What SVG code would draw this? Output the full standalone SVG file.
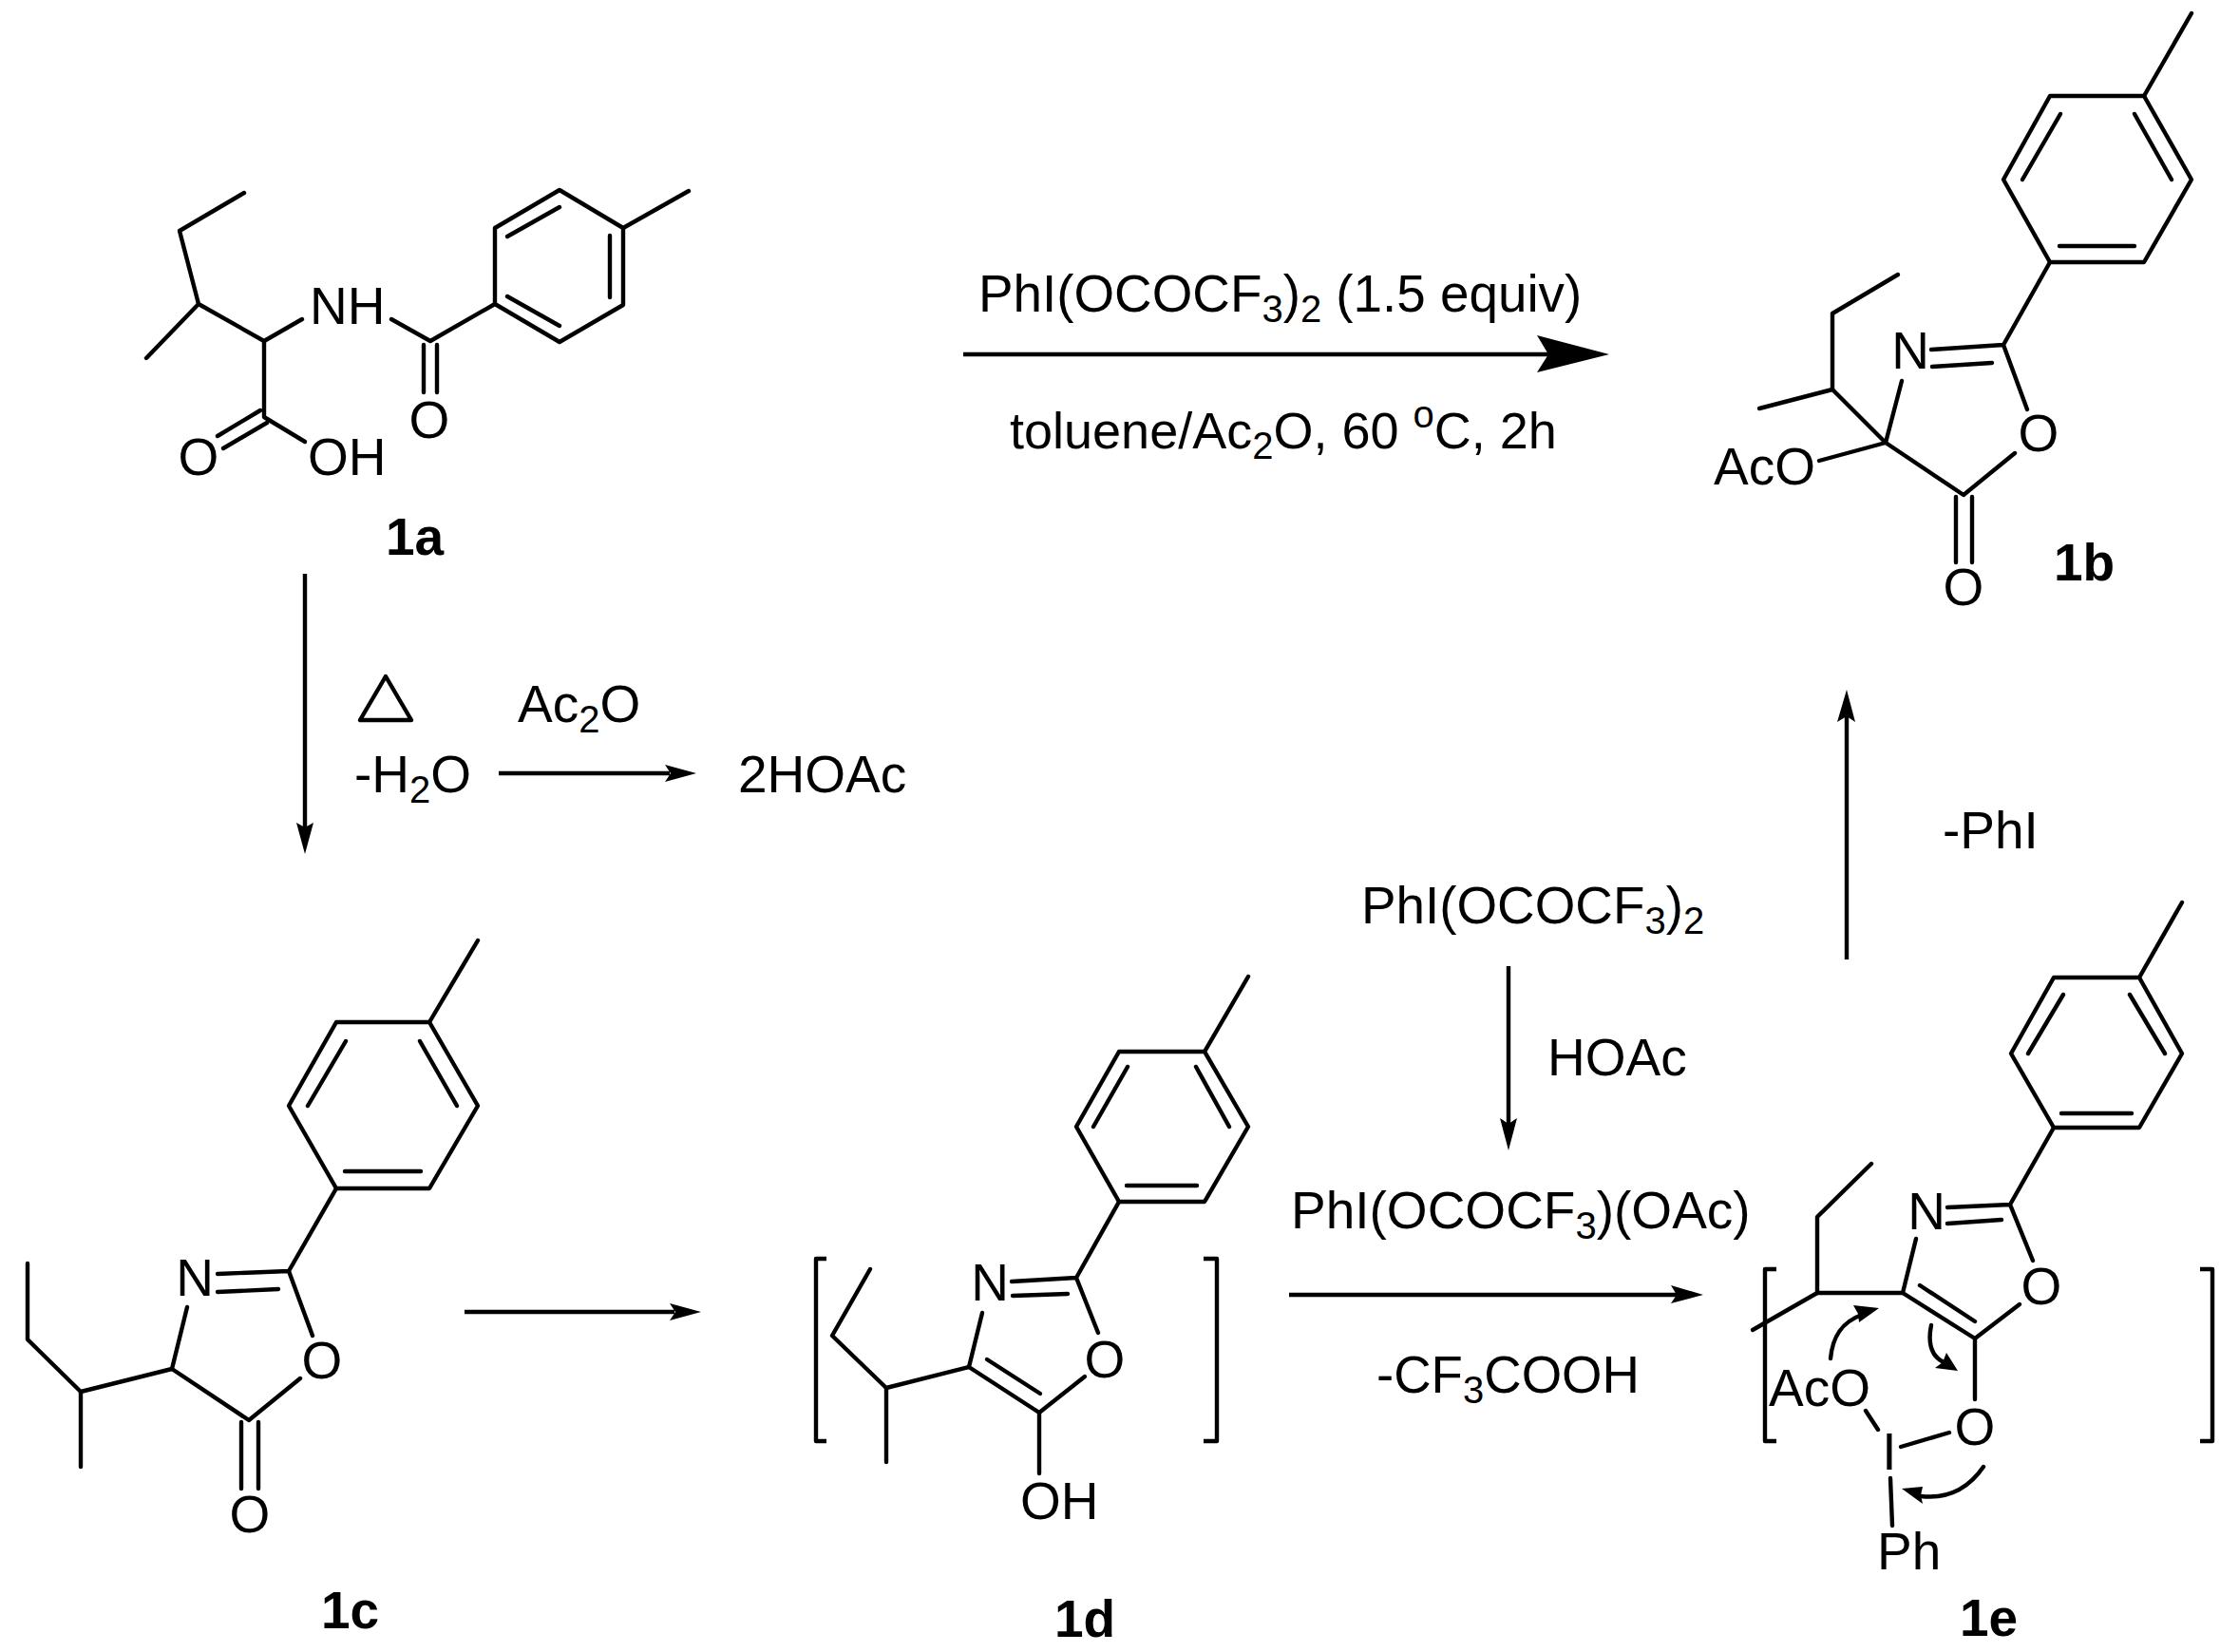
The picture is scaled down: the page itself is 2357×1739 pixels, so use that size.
<svg xmlns="http://www.w3.org/2000/svg" width="2357" height="1739" viewBox="0 0 2357 1739">
<style>
text{font-family:"Liberation Sans",Arial,sans-serif;font-size:55px;fill:#000}
.b{font-weight:bold}
.m{text-anchor:middle}
.s{font-size:40px}
path,line,polyline,polygon{stroke:#000;stroke-width:4.4;fill:none;stroke-linecap:round;stroke-linejoin:round}
.ah{fill:#000;stroke:none}
.c{stroke-linecap:butt}
</style>
<rect width="2357" height="1739" fill="#fff"/>
<g id="connectors">
<path class="c" d="M1014 373H1630"/><polygon class="ah" points="1694,373 1618,353 1630,373 1618,392"/>
<path class="c" d="M321 604V873"/><polygon class="ah" points="321,899 312,866 321,871 330,866"/>
<path class="c" d="M525 814H705"/><polygon class="ah" points="733,814 700,805 706,814 700,823"/>
<path class="c" d="M489 1381H710"/><polygon class="ah" points="738,1381 705,1372 711,1381 705,1390"/>
<path class="c" d="M1357 1363H1765"/><polygon class="ah" points="1793,1363 1759,1353 1765,1363 1759,1372"/>
<path class="c" d="M1588 1017V1185"/><polygon class="ah" points="1588,1211 1579,1177 1588,1183 1597,1177"/>
<path class="c" d="M1944 1010V752"/><polygon class="ah" points="1944,726 1934,760 1944,754 1953,760"/>
</g>
<g id="m1a">
<polyline points="257,203 189,243 209,320 154,377"/>
<polyline points="209,320 278,359 318,336"/>
<polyline points="278,359 278,439 321,465"/>
<path d="M229 459L274 432M235 472L281 445"/>
<polyline points="412,336 453,359 521,320"/>
<path d="M446 363V413M460 363V413"/>
<polygon points="521,240 589,200 656,240 656,321 589,360 521,320"/>
<path d="M656 240L725 201M534 249L589 218M642 248V313M534 312L589 343"/>
<text x="326" y="341">NH</text>
<text class="m" x="452" y="461">O</text>
<text class="m" x="209" y="500">O</text>
<text x="324" y="500">OH</text>
<text class="b" x="406" y="584">1a</text>
</g>
<g id="m1b">
<polygon points="2158,101 2257,101 2307,189 2257,276 2158,276 2109,189"/>
<path d="M2257 101L2307 14M2169 120L2129 189M2247 120L2286 189M2168 259H2247"/>
<path d="M2158 276L2109 363L2134 431M2033 368L2109 363M2034 386L2097 382"/>
<polyline points="2121,477 2067,521 1985,466 2002,401"/>
<polyline points="1852,430 1929,410 1929,330 1998,289"/>
<path d="M1929 410L1985 466L1915 485M2059 523V592M2076 523V592"/>
<text class="m" x="2011" y="388">N</text>
<text class="m" x="2146" y="475">O</text>
<text class="m" x="2067" y="637">O</text>
<text x="1804" y="510">AcO</text>
<text class="b" x="2162" y="611">1b</text>
</g>
<g id="m1c">
<polygon points="354,1076 452,1076 503,1164 452,1251 354,1251 304,1164"/>
<path d="M452 1076L503 990M364 1096L324 1164M442 1096L481 1164M363 1233H443"/>
<path d="M354 1251L304 1338L329 1406M229 1341L304 1338M229 1360L293 1357"/>
<polyline points="316,1451 262,1495 181,1441 197,1376"/>
<polyline points="29,1330 29,1410 85,1465 181,1441"/>
<path d="M85 1465V1544M254 1497V1567M272 1497V1567"/>
<text class="m" x="205" y="1364">N</text>
<text class="m" x="339" y="1451">O</text>
<text class="m" x="263" y="1613">O</text>
<text class="b" x="338" y="1714">1c</text>
</g>
<g id="m1d">
<polygon points="1178,1107 1268,1107 1314,1186 1268,1265 1178,1265 1133,1186"/>
<path d="M1268 1107L1314 1028M1187 1123L1151 1186M1259 1123L1294 1186M1186 1248H1260"/>
<path d="M1178 1265L1133 1345L1156 1403M1065 1349L1133 1345M1066 1364L1124 1362"/>
<polyline points="1142,1449 1094,1487 1020,1439 1034,1382"/>
<path d="M1039 1431L1095 1467"/>
<polyline points="916,1336 876,1406 933,1461 1020,1439"/>
<path d="M933 1461V1539M1094 1487V1551"/>
<polyline class="c" points="870,1329 859,1329 859,1521 870,1521" transform="translate(0,-4)"/>
<polyline class="c" points="1267,1329 1281,1329 1281,1521 1267,1521" transform="translate(0,-4)"/>
<text class="m" x="1042" y="1369">N</text>
<text class="m" x="1163" y="1450">O</text>
<text x="1074" y="1599">OH</text>
<text class="b" x="1110" y="1723">1d</text>
</g>
<g id="m1e">
<polygon points="2162,1029 2252,1029 2297,1109 2252,1187 2162,1187 2117,1109"/>
<path d="M2252 1029L2297 950M2172 1047L2135 1109M2242 1047L2279 1109M2170 1172H2244"/>
<path d="M2162 1187L2116 1268L2140 1327M2050 1271L2116 1268M2050 1288L2107 1284"/>
<polyline points="2126,1373 2079,1409 2003,1361 2017,1304"/>
<path d="M2021 1353L2079 1391M2079 1409V1473"/>
<polyline points="1970,1225 1913,1281 1913,1361 2003,1361"/>
<path d="M1845 1400L1913 1361"/>
<polyline class="c" points="1870,1336 1858,1336 1858,1517 1870,1517"/>
<polyline class="c" points="2316,1336 2329,1336 2329,1517 2316,1517"/>
<path d="M1964 1485L1977 1505M2001 1523L2052 1508M1990 1556L1992 1606"/>
<path d="M1927 1430C1929 1408 1938 1392 1960 1384"/><polygon class="ah" points="1978,1377 1951,1374 1956,1383 1957,1392"/>
<path d="M2033 1395C2029 1415 2034 1428 2046 1434"/><polygon class="ah" points="2061,1443 2049,1424 2045,1434 2037,1440"/>
<path d="M2088 1544C2070 1570 2048 1578 2022 1575"/><polygon class="ah" points="2002,1567 2024,1565 2022,1574 2024,1583"/>
<text x="1862" y="1480">AcO</text>
<text class="m" x="1989" y="1547">I</text>
<text class="m" x="2079" y="1521">O</text>
<text class="m" x="2149" y="1373">O</text>
<text class="m" x="2028" y="1294">N</text>
<text x="1976" y="1652">Ph</text>
<text class="b" x="2063" y="1722">1e</text>
</g>
<g id="labels">
<text x="1030" y="328" style="font-size:54.8px">PhI(OCOCF<tspan class="s" dy="11">3</tspan><tspan dy="-11">)</tspan><tspan class="s" dy="11">2</tspan><tspan dy="-11"> (1.5 equiv)</tspan></text>
<text x="1063" y="472" style="font-size:54px">toluene/Ac<tspan class="s" dy="11">2</tspan><tspan dy="-11">O, 60 </tspan><tspan class="s" dy="-22">o</tspan><tspan dy="22">C, 2h</tspan></text>
<text x="373" y="834">-H<tspan class="s" dy="11">2</tspan><tspan dy="-11">O</tspan></text>
<text x="545" y="760">Ac<tspan class="s" dy="11">2</tspan><tspan dy="-11">O</tspan></text>
<text x="777" y="834">2HOAc</text>
<polygon points="406,712 379,758 433,758"/>
<text x="2045" y="893">-PhI</text>
<text x="1433" y="972" style="font-size:54.8px">PhI(OCOCF<tspan class="s" dy="11">3</tspan><tspan dy="-11">)</tspan><tspan class="s" dy="11">2</tspan></text>
<text x="1629" y="1132">HOAc</text>
<text x="1359" y="1293">PhI(OCOCF<tspan class="s" dy="11">3</tspan><tspan dy="-11">)(OAc)</tspan></text>
<text x="1449" y="1466" style="font-size:54.6px">-CF<tspan class="s" dy="11">3</tspan><tspan dy="-11">COOH</tspan></text>
</g>
</svg>
